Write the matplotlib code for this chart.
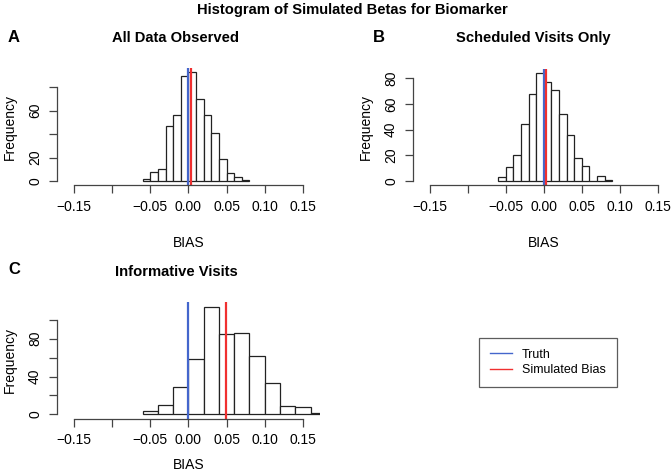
import numpy as np
import matplotlib
matplotlib.use("Agg")
import matplotlib.pyplot as plt
from matplotlib.lines import Line2D

plt.rcParams['font.family'] = ['Liberation Sans', 'DejaVu Sans']

# ---- data ----
edges_a = np.round(np.arange(-0.06, 0.08 + 1e-9, 0.01), 3)
counts_a = [2, 8, 10, 47, 56, 90, 93, 70, 56, 41, 19, 7, 3, 1]
edges_b = np.round(np.arange(-0.06, 0.09 + 1e-9, 0.01), 3)
counts_b = [3, 11, 20, 44, 68, 84, 77, 71, 52, 36, 18, 12, 0, 4, 1]
edges_c = np.round(np.arange(-0.06, 0.18 + 1e-9, 0.02), 3)
counts_c = [4, 10, 29, 59, 114, 85, 86, 62, 33, 9, 8, 1]

truth = [0.0, 0.0, 0.0]
sim_bias = [0.003, 0.003, 0.049]

titles = ["All Data Observed", "Scheduled Visits Only", "Informative Visits"]
letters = ["A", "B", "C"]
xticks = [-0.15, -0.10, -0.05, 0.00, 0.05, 0.10, 0.15]
xticklabels = ["\u22120.15", "", "\u22120.05", "0.00", "0.05", "0.10", "0.15"]
yticks_a = [0, 20, 40, 60, 80]
yticklabels_a = ["0", "20", "", "60", ""]
yticks_b = [0, 20, 40, 60, 80]
yticklabels_b = ["0", "20", "40", "60", "80"]
yticks_c = [0, 20, 40, 60, 80, 100]
yticklabels_c = ["0", "", "40", "", "80", ""]

BLUE = '#4466CC'
RED = '#F03030'
EDGE = '#222222'
AX = '#444444'

W, H = 671, 475
fig = plt.figure(figsize=(W / 100, H / 100), dpi=100)


def px_axes(left, right, top, bottom):
    return fig.add_axes([left / W, 1 - bottom / H, (right - left) / W, (bottom - top) / H])


xl = (-0.1728, 0.1728)
panels = [
    dict(box=(56.6, 320.3, 67.7, 185.3), edges=edges_a, counts=counts_a,
         yt=yticks_a, ytl=yticklabels_a, title_x=176, title_y=38, let_x=8, let_y=38, xlp=16),
    dict(box=(412.7, 675.0, 68.8, 185.3), edges=edges_b, counts=counts_b,
         yt=yticks_b, ytl=yticklabels_b, title_x=533, title_y=38, let_x=373, let_y=38, xlp=16),
    dict(box=(56.6, 320.3, 302.3, 418.6), edges=edges_c, counts=counts_c,
         yt=yticks_c, ytl=yticklabels_c, title_x=176, title_y=272, let_x=8, let_y=270, xlp=7.5),
]

for i, p in enumerate(panels):
    ax = px_axes(*p['box'])
    e = np.array(p['edges'])
    c = np.array(p['counts'])
    ax.bar(e[:-1], c, width=np.diff(e), align='edge', color='white',
           edgecolor=EDGE, linewidth=0.9)
    ymax = c.max()
    ax.set_xlim(*xl)
    ax.set_ylim(-0.04 * ymax, 1.04 * ymax)
    ax.axvline(truth[i], color=BLUE, lw=1.6)
    ax.axvline(sim_bias[i], color=RED, lw=1.6)
    for s in ['top', 'right']:
        ax.spines[s].set_visible(False)
    for s in ['left', 'bottom']:
        ax.spines[s].set_color(AX)
        ax.spines[s].set_linewidth(0.9)
    ax.spines['bottom'].set_bounds(-0.15, 0.15)
    ax.spines['left'].set_bounds(p['yt'][0], p['yt'][-1])
    ax.set_xticks(xticks)
    ax.set_xticklabels(xticklabels)
    ax.set_yticks(p['yt'])
    ax.set_yticklabels(p['ytl'], rotation=90, va='center')
    ax.tick_params(axis='both', length=5.5, width=0.9, color=AX, labelsize=10)
    ax.tick_params(axis='x', pad=5)
    ax.tick_params(axis='y', pad=5)
    ax.set_xlabel("BIAS", fontsize=10, labelpad=p['xlp'])
    ax.set_ylabel("Frequency", fontsize=10, labelpad=8)
    ax.patch.set_alpha(0)
    fig.text(p['title_x'] / W, 1 - p['title_y'] / H, titles[i], ha='center', va='center',
             fontsize=10.6, fontweight='bold')
    fig.text(p['let_x'] / W, 1 - p['let_y'] / H, letters[i], ha='left', va='center',
             fontsize=12, fontweight='bold')

fig.text(352.5 / W, 1 - 10 / H, "Histogram of Simulated Betas for Biomarker",
         ha='center', va='center', fontsize=10.6, fontweight='bold')

handles = [Line2D([], [], color=BLUE, lw=1), Line2D([], [], color=RED, lw=1)]
leg = fig.legend(handles, ["Truth", "Simulated Bias"], loc='upper left',
                 bbox_to_anchor=(479 / W, 1 - 338 / H), fontsize=9,
                 frameon=True, fancybox=False, edgecolor='#333333',
                 handlelength=1.8, handletextpad=0.8, borderpad=0.85,
                 labelspacing=0.3, borderaxespad=0)
leg.get_frame().set_linewidth(0.9)

fig.savefig("out.png", dpi=100)
